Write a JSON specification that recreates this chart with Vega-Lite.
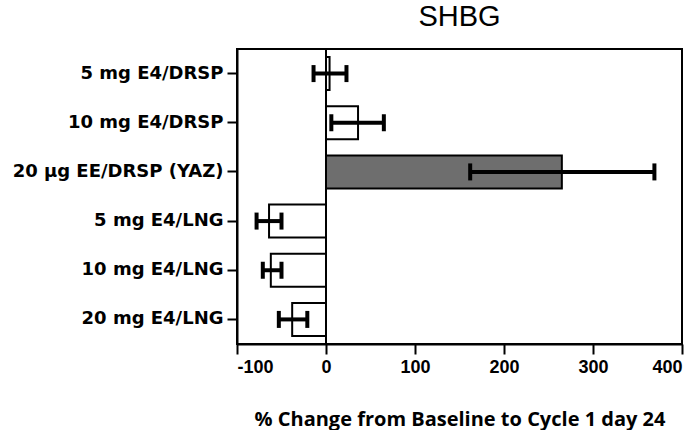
{
  "$schema": "https://vega.github.io/schema/vega-lite/v6.json",
  "width": 445,
  "height": 295,
  "autosize": {"type": "none"},
  "padding": {"left": 237, "top": 49, "right": 18, "bottom": 86},
  "background": "white",
  "title": {"text": "SHBG", "font": "Liberation Sans", "fontSize": 29, "fontWeight": "normal", "color": "black", "anchor": "middle", "offset": 16},
  "config": {
    "view": {"stroke": "black", "strokeWidth": 2},
    "axis": {"domainColor": "black", "domainWidth": 2, "tickColor": "black", "tickWidth": 2, "grid": false, "labelColor": "black", "titleColor": "black"}
  },
  "datasets": {
    "shbg": [
      {"group": "5 mg E4/DRSP", "mean": 4, "lo": -14, "hi": 23, "kind": "open"},
      {"group": "10 mg E4/DRSP", "mean": 36, "lo": 6, "hi": 65, "kind": "open"},
      {"group": "20 µg EE/DRSP (YAZ)", "mean": 265, "lo": 162, "hi": 369, "kind": "hatched"},
      {"group": "5 mg E4/LNG", "mean": -64, "lo": -78, "hi": -50, "kind": "open"},
      {"group": "10 mg E4/LNG", "mean": -62, "lo": -71, "hi": -50, "kind": "open"},
      {"group": "20 mg E4/LNG", "mean": -38, "lo": -53, "hi": -21, "kind": "open"}
    ]
  },
  "encoding": {
    "y": {
      "field": "group", "type": "nominal", "sort": null,
      "scale": {"paddingInner": 0.33, "paddingOuter": 0.165},
      "axis": {"title": null, "labelFont": "DejaVu Sans", "labelFontWeight": "bold", "labelFontSize": 18, "labelLimit": 400, "tickSize": 10, "labelPadding": 4, "domain": true}
    }
  },
  "layer": [
    {
      "data": {"name": "shbg"},
      "mark": {"type": "bar", "stroke": "black", "strokeWidth": 2},
      "encoding": {
        "x": {
          "field": "mean", "type": "quantitative",
          "scale": {"domain": [-100, 400], "nice": false, "zero": false},
          "axis": {"values": [-100, 0, 100, 200, 300, 400], "labelExpr": "'' + datum.value", "title": "% Change from Baseline to Cycle 1 day 24", "titleFont": "Open Sans", "titleFontWeight": "bold", "titleFontSize": 20, "titlePadding": 33, "labelFont": "Liberation Sans", "labelFontWeight": "bold", "labelFontSize": 18, "tickSize": 10, "labelPadding": 4}
        },
        "fill": {"field": "kind", "type": "nominal", "scale": {"domain": ["open", "hatched"], "range": ["white", "#6e6e6e"]}, "legend": null}
      }
    },
    {
      "data": {"values": [{"zero": 0}]},
      "mark": {"type": "rule", "color": "black", "strokeWidth": 2},
      "encoding": {"x": {"field": "zero", "type": "quantitative"}, "y": null}
    },
    {
      "data": {"name": "shbg"},
      "mark": {"type": "rule", "color": "black", "strokeWidth": 4},
      "encoding": {"x": {"field": "lo", "type": "quantitative"}, "x2": {"field": "hi"}}
    },
    {
      "data": {"name": "shbg"},
      "mark": {"type": "tick", "color": "black", "opacity": 1, "size": 17, "thickness": 4, "orient": "vertical"},
      "encoding": {"x": {"field": "lo", "type": "quantitative"}}
    },
    {
      "data": {"name": "shbg"},
      "mark": {"type": "tick", "color": "black", "opacity": 1, "size": 17, "thickness": 4, "orient": "vertical"},
      "encoding": {"x": {"field": "hi", "type": "quantitative"}}
    }
  ]
}
